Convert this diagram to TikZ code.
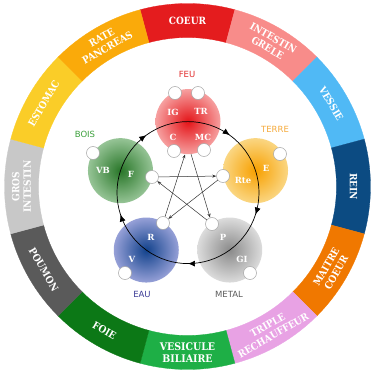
\documentclass[tikz,border=0pt]{standalone}
\usepackage{fontspec}
\setmainfont{DejaVu Serif}
\newfontfamily\ringfont{DejaVu Serif Condensed}[BoldFont={DejaVu Serif Condensed Bold}]
\newfontfamily\elemfont{DejaVu Sans}
\usetikzlibrary{arrows.meta,decorations.markings}

\definecolor{cCoeur}{RGB}{228,28,30}
\definecolor{cIntestin}{RGB}{248,140,138}
\definecolor{cVessie}{RGB}{80,185,245}
\definecolor{cRein}{RGB}{12,75,130}
\definecolor{cMaitre}{RGB}{240,120,0}
\definecolor{cTriple}{RGB}{232,162,228}
\definecolor{cVesicule}{RGB}{30,175,70}
\definecolor{cFoie}{RGB}{12,120,22}
\definecolor{cPoumon}{RGB}{90,90,90}
\definecolor{cGros}{RGB}{200,200,200}
\definecolor{cEstomac}{RGB}{250,205,40}
\definecolor{cRate}{RGB}{250,170,10}

\definecolor{feuIn}{RGB}{228,20,24}
\definecolor{feuOut}{RGB}{246,160,160}
\definecolor{boisIn}{RGB}{40,118,40}
\definecolor{boisOut}{RGB}{150,196,150}
\definecolor{terreIn}{RGB}{248,160,0}
\definecolor{terreOut}{RGB}{250,214,130}
\definecolor{metalIn}{RGB}{138,138,138}
\definecolor{metalOut}{RGB}{220,220,220}
\definecolor{eauIn}{RGB}{18,66,140}
\definecolor{eauOut}{RGB}{150,160,215}

\definecolor{feuTxt}{RGB}{225,45,45}
\definecolor{boisTxt}{RGB}{60,160,60}
\definecolor{terreTxt}{RGB}{245,170,60}
\definecolor{eauTxt}{RGB}{60,60,150}
\definecolor{metalTxt}{RGB}{90,90,90}

\begin{document}
\begin{tikzpicture}[x=1pt,y=1pt,
  ringtxt/.style={text=white, font=\ringfont\bfseries\fontsize{10}{11.5}\selectfont, align=center, inner sep=0pt},
  elemname/.style={font=\elemfont\fontsize{8.5}{10}\selectfont, inner sep=0pt},
  sublbl/.style={text=white, font=\bfseries\fontsize{8.5}{10}\selectfont, inner sep=0pt},
  dot/.style={circle, fill=white, draw=black!35, line width=0.5pt, minimum size=13pt, inner sep=0pt},
  elem/.style={circle, minimum size=65pt, inner sep=0pt},
  cyc/.style={line width=0.7pt, postaction={decorate}, decoration={markings, mark=at position 0.5 with {\arrow{Latex[length=7pt,width=6pt]}}}},
  star/.style={line width=0.5pt, black!80, -{Stealth[length=4pt,width=3pt]}}
]
\useasboundingbox (0,0) rectangle (375,384);
\coordinate (rc) at (187.5,197.5);
\coordinate (pc) at (188,191.4);

% ring
\foreach \a/\c in {90/cCoeur,60/cIntestin,30/cVessie,0/cRein,-30/cMaitre,-60/cTriple,-90/cVesicule,-120/cFoie,-150/cPoumon,-180/cGros,-210/cEstomac,-240/cRate}{
  \fill[\c, draw=\c, line width=0.3pt] ([shift={(\a+15:183)}]rc) arc[start angle=\a+15, end angle=\a-15, radius=183]
    -- ([shift={(\a-15:149)}]rc) arc[start angle=\a-15, end angle=\a+15, radius=149] -- cycle;
}

% ring labels
\node[ringtxt, rotate=0]   (tCoeur)    at ([shift={(90:166)}]rc)  {COEUR};
\node[ringtxt, rotate=-30] (tIntestin) at ([shift={(60:166)}]rc)  {INTESTIN\\GRELE};
\node[ringtxt, rotate=-60] (tVessie)   at ([shift={(30:166)}]rc)  {VESSIE};
\node[ringtxt, rotate=-90] (tRein)     at ([shift={(0:166)}]rc)   {REIN};
\node[ringtxt, rotate=60]  (tMaitre)   at ([shift={(-30:166)}]rc) {MAITRE\\COEUR};
\node[ringtxt, rotate=30]  (tTriple)   at ([shift={(-60:166)}]rc) {TRIPLE\\RECHAUFFEUR};
\node[ringtxt, rotate=0, font=\ringfont\bfseries\fontsize{10.5}{12}\selectfont] (tVesicule) at ([shift={(-90:166)}]rc) {VESICULE\\BILIAIRE};
\node[ringtxt, rotate=-30] (tFoie)     at ([shift={(-120:166)}]rc) {FOIE};
\node[ringtxt, rotate=-60] (tPoumon)   at ([shift={(-150:166)}]rc) {POUMON};
\node[ringtxt, rotate=90]  (tGros)     at ([shift={(180:166)}]rc)  {GROS\\INTESTIN};
\node[ringtxt, rotate=60]  (tEstomac)  at ([shift={(150:166)}]rc)  {ESTOMAC};
\node[ringtxt, rotate=30]  (tRate)     at ([shift={(120:166)}]rc)  {RATE\\PANCREAS};

% element circles
\node[elem, inner color=feuIn,   outer color=feuOut]   (feu)   at ([shift={(90:71)}]pc)  {};
\node[elem, inner color=terreIn, outer color=terreOut] (terre) at ([shift={(18:71)}]pc)  {};
\node[elem, inner color=metalIn, outer color=metalOut] (metal) at ([shift={(-54:71)}]pc) {};
\node[elem, inner color=eauIn,   outer color=eauOut]   (eau)   at ([shift={(234:71)}]pc) {};
\node[elem, inner color=boisIn,  outer color=boisOut]  (bois)  at ([shift={(162:71)}]pc) {};

% generating cycle
\draw[cyc] (feu.center)   arc[start angle=90,  end angle=18,  radius=71];
\draw[cyc] (terre.center) arc[start angle=18,  end angle=-54, radius=71];
\draw[cyc] (metal.center) arc[start angle=-54, end angle=-126, radius=71];
\draw[cyc] (eau.center)   arc[start angle=234, end angle=162, radius=71];
\draw[cyc] (bois.center)  arc[start angle=162, end angle=90,  radius=71];

% small white circles
\node[dot] (dIG)  at (175,291) {};
\node[dot] (dTR)  at (198,291) {};
\node[dot] (dC)   at (174,233) {};
\node[dot] (dMC)  at (204,234) {};
\node[dot] (dVB)  at (93,231)  {};
\node[dot] (dF)   at (152,207) {};
\node[dot] (dE)   at (280,230) {};
\node[dot] (dRte) at (223,208) {};
\node[dot] (dP)   at (212,160) {};
\node[dot] (dGI)  at (250,111) {};
\node[dot] (dR)   at (163,161) {};
\node[dot] (dV)   at (125,111) {};

% controlling star
\coordinate (feuL) at (185,229.5);
\coordinate (feuR) at (191,230);
\draw[star] (dR) -- (feuL);
\draw[star] (feuR) -- (dP);
\draw[star] (dF) -- (dRte);
\draw[star] (dP) -- (dF);
\draw[star] (dRte) -- (dR);

% sub labels
\node[sublbl] (lIG)  at (173,272) {IG};
\node[sublbl] (lTR)  at (201,273) {TR};
\node[sublbl] (lC)   at (173,247) {C};
\node[sublbl] (lMC)  at (203,247) {MC};
\node[sublbl] (lVB)  at (103,214) {VB};
\node[sublbl] (lF)   at (131,210) {F};
\node[sublbl] (lE)   at (266,216) {E};
\node[sublbl] (lRte) at (243,204) {Rte};
\node[sublbl] (lP)   at (223,147) {P};
\node[sublbl] (lGI)  at (242,125) {GI};
\node[sublbl] (lR)   at (151,147) {R};
\node[sublbl] (lV)   at (132,125) {V};

% element names
\node[elemname, text=feuTxt]   (nFeu)   at (187,310) {FEU};
\node[elemname, text=boisTxt]  (nBois)  at (85,250)  {BOIS};
\node[elemname, text=terreTxt] (nTerre) at (275,255) {TERRE};
\node[elemname, text=eauTxt]   (nEau)   at (142,90)  {EAU};
\node[elemname, text=metalTxt] (nMetal) at (229,90)  {METAL};
\end{tikzpicture}
\end{document}
